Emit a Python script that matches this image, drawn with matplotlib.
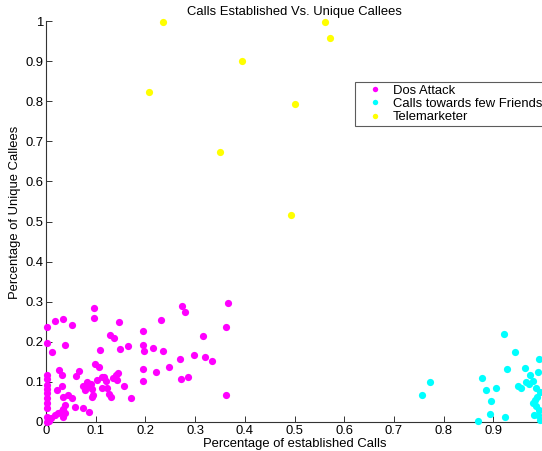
import matplotlib
matplotlib.use("Agg")
import matplotlib.pyplot as plt

plt.rcParams['font.family'] = ['Liberation Sans', 'DejaVu Sans']

title = "Calls Established Vs. Unique Callees"
xlabel = "Percentage of established Calls"
ylabel = "Percentage of Unique Callees"
series_names = ["Dos Attack", "Calls towards few Friends", "Telemarketer"]
series_colors = ["#ff00ff", "#00ffff", "#ffff00"]
xticks = [0, 0.1, 0.2, 0.3, 0.4, 0.5, 0.6, 0.7, 0.8, 0.9]
xticklabels = ["0", "0.1", "0.2", "0.3", "0.4", "0.5", "0.6", "0.7", "0.8", "0.9"]
yticks = [0, 0.1, 0.2, 0.3, 0.4, 0.5, 0.6, 0.7, 0.8, 0.9, 1.0]
yticklabels = ["0", "0.1", "0.2", "0.3", "0.4", "0.5", "0.6", "0.7", "0.8", "0.9", "1"]

dos_x = [0.003, 0.018, 0.034, 0.053, 0.097, 0.097, 0.147, 0.128, 0.137, 0.003,
         0.013, 0.038, 0.108, 0.149, 0.164, 0.196, 0.232, 0.196, 0.197, 0.215,
         0.235, 0.274, 0.279, 0.297, 0.269, 0.248, 0.221, 0.196, 0.195, 0.272,
         0.285, 0.367, 0.362, 0.315, 0.319, 0.335, 0.362,
         0.099, 0.107, 0.026, 0.032, 0.066, 0.061,
         0.003, 0.003, 0.003, 0.003, 0.003, 0.003, 0.003, 0.003, 0.003, 0.003,
         0.022, 0.033, 0.035, 0.045, 0.052, 0.038, 0.058, 0.074, 0.087, 0.035,
         0.035, 0.025, 0.018, 0.011, 0.006, 0.074, 0.078, 0.085, 0.092, 0.082,
         0.091, 0.102, 0.112, 0.094, 0.092, 0.112,
         0.117, 0.121, 0.135, 0.141, 0.145, 0.142, 0.122, 0.156, 0.127, 0.130,
         0.171, 0.039, 0.032]
dos_y = [0.236, 0.253, 0.256, 0.243, 0.285, 0.260, 0.249, 0.217, 0.210, 0.196,
         0.175, 0.191, 0.180, 0.182, 0.190, 0.228, 0.255, 0.192, 0.177, 0.185,
         0.177, 0.290, 0.274, 0.168, 0.157, 0.138, 0.124, 0.132, 0.102, 0.106,
         0.113, 0.296, 0.238, 0.214, 0.163, 0.152, 0.068,
         0.145, 0.136, 0.129, 0.118, 0.127, 0.115,
         0.117, 0.106, 0.092, 0.082, 0.072, 0.059, 0.047, 0.034, 0.013, 0.000,
         0.080, 0.090, 0.063, 0.067, 0.059, 0.042, 0.038, 0.034, 0.024, 0.032,
         0.013, 0.022, 0.017, 0.009, 0.002, 0.091, 0.080, 0.087, 0.082, 0.100,
         0.094, 0.105, 0.111, 0.067, 0.062, 0.084,
         0.113, 0.103, 0.109, 0.117, 0.123, 0.105, 0.084, 0.090, 0.069, 0.063,
         0.061, 0.022, 0.027]

friends_x = [0.921, 0.944, 0.991, 0.928, 0.964, 0.989, 0.974, 0.878, 0.773, 0.756,
             0.965, 0.980, 0.950, 0.955, 0.985, 0.972, 0.905, 0.886, 0.896, 0.894,
             0.924, 0.869, 0.988, 0.984, 0.980, 0.986, 0.992, 0.982, 0.990, 0.994,
             0.994]
friends_y = [0.220, 0.175, 0.156, 0.133, 0.135, 0.125, 0.116, 0.110, 0.099, 0.068,
             0.100, 0.101, 0.091, 0.086, 0.086, 0.095, 0.086, 0.080, 0.052, 0.020,
             0.012, 0.003, 0.062, 0.055, 0.047, 0.040, 0.030, 0.017, 0.017, 0.005,
             0.075]

tele_x = [0.235, 0.394, 0.207, 0.501, 0.350, 0.493, 0.561, 0.571]
tele_y = [0.998, 0.900, 0.823, 0.793, 0.673, 0.516, 0.998, 0.958]

W, H = 542, 451
FS = 9.4
fig = plt.figure(figsize=(W / 100, H / 100), dpi=100)
ax = fig.add_axes([46 / W, (H - 422) / H, 497 / W, 401 / H])

handles = []
for xs, ys, c, name in [(dos_x, dos_y, series_colors[0], series_names[0]),
                        (friends_x, friends_y, series_colors[1], series_names[1]),
                        (tele_x, tele_y, series_colors[2], series_names[2])]:
    h, = ax.plot(xs, ys, 'o', color=c, markersize=5.2, markeredgewidth=0,
                 linestyle='none', label=name, clip_on=False, zorder=3)
    handles.append(h)

ax.set_xlim(0, 1)
ax.set_ylim(0, 1)
ax.set_xticks(xticks)
ax.set_xticklabels(xticklabels)
ax.set_yticks(yticks)
ax.set_yticklabels(yticklabels)
ax.spines['top'].set_visible(False)
ax.spines['right'].set_visible(False)
for s in ['left', 'bottom']:
    ax.spines[s].set_color('#333333')
    ax.spines[s].set_linewidth(0.8)
ax.tick_params(direction='in', length=4, width=0.7, color='#333333',
               labelsize=FS, pad=2)
ax.set_xlabel(xlabel, fontsize=FS, labelpad=1)
ax.set_ylabel(ylabel, fontsize=FS, labelpad=3)
ax.yaxis.label.set_y(0.522)
ax.set_title(title, fontsize=FS, pad=4)

leg = fig.legend(handles=handles, loc='upper left',
                 bbox_to_anchor=(355 / W, 1 - 82 / H),
                 fontsize=FS, frameon=True, fancybox=False, markerscale=0.75,
                 handlelength=2.67, handletextpad=0.05, borderpad=0.2,
                 labelspacing=0.08, borderaxespad=0)
leg.get_frame().set_edgecolor('#333333')
leg.get_frame().set_linewidth(0.8)

fig.savefig("out.png", dpi=100)
